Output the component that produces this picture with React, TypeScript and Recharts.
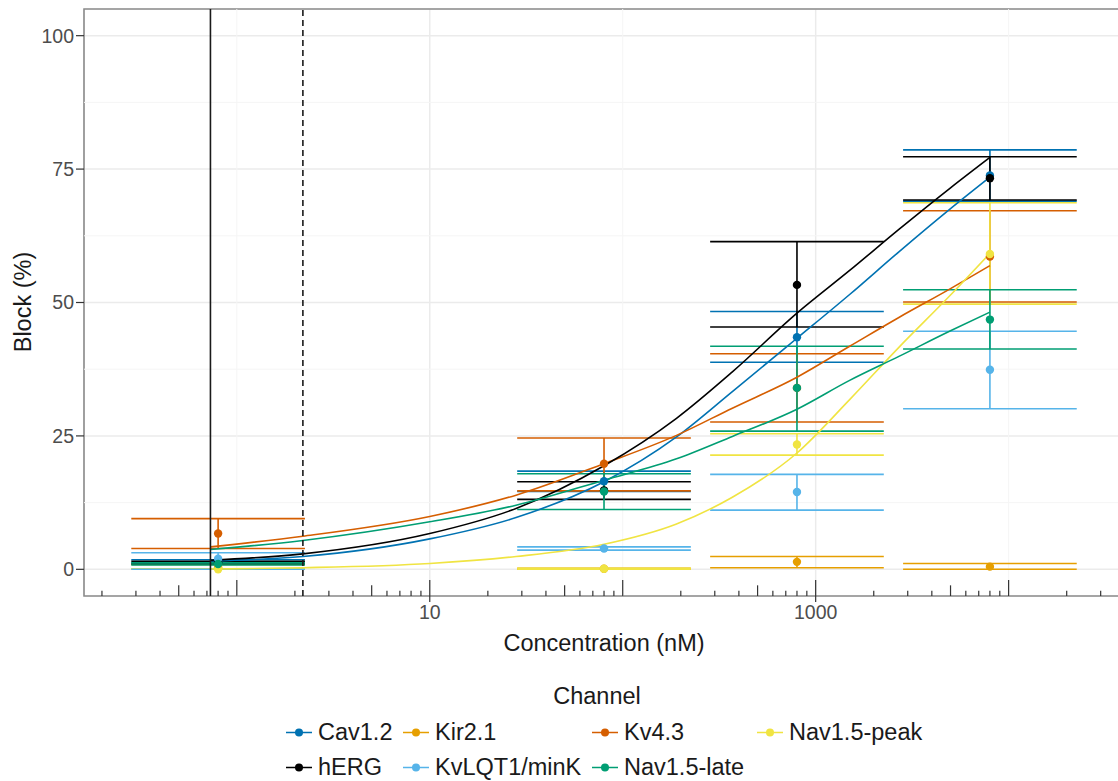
import React from "react";
import {
  CartesianGrid,
  ComposedChart,
  Label,
  Line,
  ReferenceArea,
  ReferenceLine,
  Scatter,
  XAxis,
  YAxis,
} from "recharts";

// channels in legend order, with their colours
const channels = ["Cav1.2", "Kir2.1", "Kv4.3", "Nav1.5-peak", "hERG", "KvLQT1/minK", "Nav1.5-late"];
const channelColors = ["#0072B2", "#E69F00", "#D55E00", "#F0E442", "#000000", "#56B4E9", "#009E73"];

// tested concentrations (nM)
const testConc = [0.8, 80, 800, 8000];

// mean block (%) and error limits, one row per channel
const meanBlock = [
  [1.5, 16.5, 43.5, 73.8],
  [0.4, 0.1, 1.4, 0.5],
  [6.7, 19.8, 34.0, 58.6],
  [0.0, 0.1, 23.4, 59.1],
  [1.3, 14.8, 53.3, 73.3],
  [2.0, 3.9, 14.5, 37.4],
  [1.0, 14.6, 34.0, 46.8],
];
const lowerBlock = [
  [1.2, 14.6, 38.8, 69.0],
  [0.0, 0.0, 0.3, 0.0],
  [3.9, 14.7, 27.6, 50.1],
  [0.0, 0.0, 21.4, 49.7],
  [1.0, 13.1, 45.4, 69.2],
  [0.0, 3.6, 11.1, 30.1],
  [0.8, 11.2, 25.9, 41.3],
];
const upperBlock = [
  [1.8, 18.4, 48.3, 78.6],
  [0.9, 0.2, 2.4, 1.1],
  [9.5, 24.6, 40.4, 67.2],
  [0.1, 0.2, 25.4, 68.7],
  [1.5, 16.4, 61.4, 77.3],
  [3.1, 4.2, 17.8, 44.6],
  [1.2, 17.9, 41.8, 52.4],
];

// fitted dose-response curves (null = no fit drawn)
const fitConc = [0.73, 2.2, 10, 28, 80, 190, 370, 800, 1500, 2700, 5000, 8000];
const fitBlock = [
  [1.55, 2.4, 5.7, 9.7, 16.4, 24.8, 33.3, 43.3, 51.5, 59.5, 67.6, 73.5],
  null,
  [4.2, 6.2, 9.9, 13.9, 19.8, 25.1, 30.2, 36.0, 41.8, 47.2, 52.6, 56.9],
  [0.05, 0.3, 1.1, 2.4, 4.7, 8.5, 13.5, 21.8, 31.8, 41.6, 51.4, 59.2],
  [1.7, 2.9, 6.7, 11.4, 19.4, 28.3, 37.0, 48.0, 56.0, 63.7, 71.5, 77.2],
  null,
  [3.7, 5.4, 8.9, 12.0, 16.7, 20.7, 24.9, 30.0, 35.4, 39.9, 44.7, 48.2],
];

// reference concentrations (solid and dashed vertical lines)
const cmaxLine = 0.73;
const cmaxDashed = 2.2;

const xTickValues = [10, 1000];
const xMinorGrid = [1, 100, 10000];
const yTickValues = [0, 25, 50, 75, 100];
const yMinorGrid = [12.5, 37.5, 62.5, 87.5];
const logDecades = [-1, 0, 1, 2, 3, 4];
const logSteps = [1, 2, 3, 4, 5, 6, 7, 8, 9];

const X_MIN = -0.792;
const X_MAX = 4.598;
const Y_MIN = -5;
const Y_MAX = 105;
const CAP_HALF = 0.45; // errorbar cap half-width, in decades

const W = 1126;
const H = 781;
const FONT = "'Liberation Sans', Arial, sans-serif";

const lg = (v: number) => Math.log10(v);

const legendRows = [
  [0, 1, 2, 3],
  [4, 5, 6],
];
const legendKeyX = [286, 403, 592, 757];

const Dot = (props: any) => {
  const { cx, cy, fill } = props;
  if (cx == null || cy == null) return null;
  return <circle cx={cx} cy={cy} r={4.2} fill={fill} />;
};

const App = () => {
  const logTicks: { x: number; len: number }[] = [];
  logDecades.forEach((d) =>
    logSteps.forEach((k) => {
      const x = lg(k) + d;
      if (x > X_MIN && x < X_MAX) logTicks.push({ x, len: k === 1 ? 3 : k === 5 ? 2 : 1 });
    })
  );

  return (
    <div style={{ position: "relative", width: 1118, height: H, overflow: "hidden", fontFamily: FONT }}>
      <style>{`body{margin:0;overflow:hidden}`}</style>
      <ComposedChart
        width={W}
        height={H}
        margin={{ top: 9, right: 2, left: 0, bottom: 145 }}
      >
        <CartesianGrid
          stroke="#EBEBEB"
          strokeWidth={1.5}
          horizontal
          vertical
        />
        {yMinorGrid.map((y) => (
          <ReferenceLine key={"my" + y} y={y} stroke="#F5F5F5" strokeWidth={1} />
        ))}
        {xMinorGrid.map((x) => (
          <ReferenceLine key={"mx" + x} x={lg(x)} stroke="#F5F5F5" strokeWidth={1} />
        ))}
        <XAxis
          type="number"
          dataKey="lx"
          domain={[X_MIN, X_MAX]}
          allowDataOverflow
          ticks={xTickValues.map(lg)}
          tickFormatter={(v: number) => String(Math.round(Math.pow(10, v)))}
          height={40}
          axisLine={false}
          tickSize={6}
          tickMargin={3}
          tickLine={{ stroke: "#333333", strokeWidth: 1.2 }}
          tick={{ fill: "#4D4D4D", fontSize: 19.5, fontFamily: FONT }}
        >
          <Label
            value="Concentration (nM)"
            position="bottom"
            offset={-2}
            style={{ fill: "#1A1A1A", fontSize: 23.5, fontFamily: FONT }}
          />
        </XAxis>
        <YAxis
          type="number"
          domain={[Y_MIN, Y_MAX]}
          allowDataOverflow
          ticks={yTickValues}
          width={84}
          axisLine={false}
          tickSize={8}
          tickMargin={2}
          tickLine={{ stroke: "#333333", strokeWidth: 1.2 }}
          tick={{ fill: "#4D4D4D", fontSize: 19.5, fontFamily: FONT }}
        />

        {/* errorbar caps and whiskers */}
        {channels.map((ch, i) =>
          testConc.map((c, j) => {
            const x = lg(c);
            return (
              <React.Fragment key={ch + j}>
                <ReferenceLine
                  segment={[{ x: x - CAP_HALF, y: upperBlock[i][j] }, { x: x + CAP_HALF, y: upperBlock[i][j] }]}
                  stroke={channelColors[i]}
                  strokeWidth={1.6}
                />
                <ReferenceLine
                  segment={[{ x: x - CAP_HALF, y: lowerBlock[i][j] }, { x: x + CAP_HALF, y: lowerBlock[i][j] }]}
                  stroke={channelColors[i]}
                  strokeWidth={1.6}
                />
                <ReferenceLine
                  segment={[{ x, y: lowerBlock[i][j] }, { x, y: upperBlock[i][j] }]}
                  stroke={channelColors[i]}
                  strokeWidth={1.6}
                />
              </React.Fragment>
            );
          })
        )}

        {/* fitted curves */}
        {channels.map((ch, i) => {
          const fit = fitBlock[i];
          if (!fit) return null;
          return (
            <Line
              key={"fit" + ch}
              data={fitConc.map((c, k) => ({ lx: lg(c), y: fit[k] }))}
              dataKey="y"
              type="monotone"
              stroke={channelColors[i]}
              strokeWidth={1.6}
              dot={false}
              activeDot={false}
              isAnimationActive={false}
            />
          );
        })}

        {/* mean block */}
        {channels.map((ch, i) => (
          <Scatter
            key={"pt" + ch}
            data={testConc.map((c, j) => ({ lx: lg(c), y: meanBlock[i][j] }))}
            dataKey="y"
            fill={channelColors[i]}
            shape={<Dot />}
            isAnimationActive={false}
          />
        ))}

        {/* log ticks along the bottom */}
        {logTicks.map((t) => (
          <ReferenceLine
            key={"lt" + t.x}
            segment={[{ x: t.x, y: Y_MIN }, { x: t.x, y: Y_MIN + t.len }]}
            stroke="#333333"
            strokeWidth={1.2}
          />
        ))}

        <ReferenceLine x={lg(cmaxLine)} stroke="#1A1A1A" strokeWidth={1.6} />
        <ReferenceLine x={lg(cmaxDashed)} stroke="#1A1A1A" strokeWidth={1.6} strokeDasharray="6 4" />

        <ReferenceArea
          x1={X_MIN}
          x2={X_MAX}
          y1={Y_MIN}
          y2={Y_MAX}
          fill="none"
          stroke="#8C8C8C"
          strokeWidth={1.6}
          ifOverflow="visible"
        />
      </ComposedChart>

      <div
        style={{
          position: "absolute",
          left: 23,
          top: 302,
          transform: "translate(-50%, -50%) rotate(-90deg)",
          fontSize: 23.5,
          color: "#1A1A1A",
          whiteSpace: "nowrap",
        }}
      >
        Block (%)
      </div>

      <div
        style={{
          position: "absolute",
          left: 597,
          top: 696,
          transform: "translate(-50%, -50%)",
          fontSize: 23.5,
          color: "#1A1A1A",
        }}
      >
        Channel
      </div>
      {legendRows.map((row, r) =>
        row.map((idx, c) => (
          <div
            key={channels[idx]}
            style={{
              position: "absolute",
              left: legendKeyX[c],
              top: 732 + r * 35,
              transform: "translateY(-50%)",
              display: "flex",
              alignItems: "center",
              whiteSpace: "nowrap",
            }}
          >
            <svg width={26} height={12} style={{ marginRight: 6 }}>
              <line x1={0} y1={6} x2={26} y2={6} stroke={channelColors[idx]} strokeWidth={1.6} />
              <circle cx={13} cy={6} r={4} fill={channelColors[idx]} />
            </svg>
            <span style={{ fontSize: 23.5, color: "#1A1A1A" }}>{channels[idx]}</span>
          </div>
        ))
      )}
    </div>
  );
};

export default App;
